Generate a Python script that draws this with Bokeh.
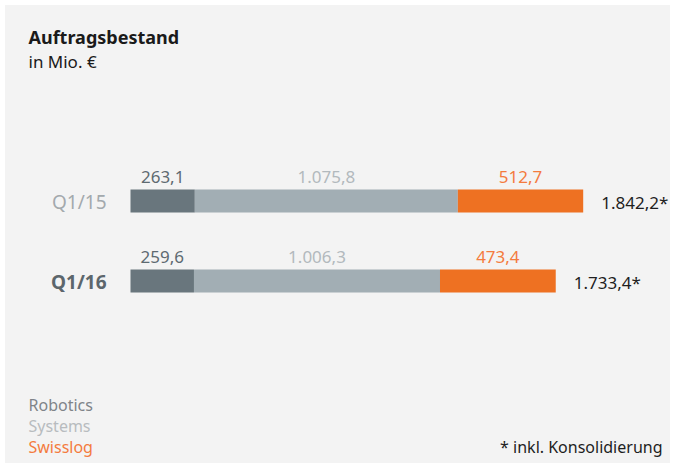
from bokeh.plotting import figure
from bokeh.models import Range1d, ColumnDataSource, Label
from bokeh.embed import file_html
from bokeh.resources import INLINE
from bokeh.core.properties import value

# ---- data ----
categories = ["Q1/15", "Q1/16"]
segments = ["Robotics", "Systems", "Swisslog"]
robotics = [263.1, 259.6]
systems = [1075.8, 1006.3]
swisslog = [512.7, 473.4]
totals = [1842.2, 1733.4]

title = "Auftragsbestand"
subtitle = "in Mio. €"
footnote = "* inkl. Konsolidierung"

# ---- styles ----
FONT = "Noto Sans"
BG = "#f3f3f3"
bar_colors = ["#69767d", "#a2aeb4", "#ee7122"]
label_colors = ["#5e6a71", "#b2b9bd", "#f47b3e"]
legend_colors = ["#7f8489", "#b8bcbf", "#f47b3e"]

W, H = 675, 468
PX_PER_UNIT = 0.24449
X0_PX = 130
ROW_PX = 80.0
ROW2_FROM_BOTTOM = H - 280.5

def de(v):
    s = f"{v:,.1f}"
    return s.replace(",", "X").replace(".", ",").replace("X", ".")

n = len(categories)
ys = [n - 1 - i for i in range(n)]

x_start = -X0_PX / PX_PER_UNIT
x_end = x_start + W / PX_PER_UNIT
y_start = -ROW2_FROM_BOTTOM / ROW_PX
y_end = y_start + H / ROW_PX

p = figure(width=W, height=H, output_backend="svg", toolbar_location=None,
           x_range=Range1d(x_start, x_end), y_range=Range1d(y_start, y_end),
           x_axis_type=None, y_axis_type=None, min_border=0)
p.background_fill_color = BG
p.border_fill_color = BG
p.outline_line_color = "white"
p.outline_line_width = 9
p.grid.visible = False

bar_h = 23 / ROW_PX
series = [robotics, systems, swisslog]
left = [0.0] * n
for k, vals in enumerate(series):
    right = [l + v for l, v in zip(left, vals)]
    mid = [(l + r) / 2 for l, r in zip(left, right)]
    src = ColumnDataSource(dict(y=ys, left=left, right=right, mid=mid,
                                ly=[y + 24.5 / ROW_PX for y in ys],
                                lbl=[de(v) for v in vals]))
    p.hbar(y="y", left="left", right="right", height=bar_h, source=src,
           fill_color=bar_colors[k], line_color=None)
    p.text(x="mid", y="ly", text="lbl", source=src, text_align="center",
           text_baseline="middle", text_color=label_colors[k],
           text_font=value(FONT), text_font_size="17px")
    left = right

# totals
tsrc = ColumnDataSource(dict(x=left, y=[y - 1.5 / ROW_PX for y in ys],
                             t=[de(v) + "*" for v in totals]))
p.text(x="x", y="y", text="t", source=tsrc, x_offset=18, text_align="left",
       text_baseline="middle", text_color="#1e1e1e",
       text_font=value(FONT), text_font_size="17px")

# category labels
for i, c in enumerate(categories):
    bold = (i == n - 1)
    csrc = ColumnDataSource(dict(x=[0], y=[ys[i] - 1 / ROW_PX], t=[c]))
    p.text(x="x", y="y", text="t", source=csrc, x_offset=-24,
           text_align="right", text_baseline="middle",
           text_color="#5c666c" if bold else "#a3a9ad",
           text_font=value(FONT), text_font_size="19px",
           text_font_style="bold" if bold else "normal")

# title / subtitle
p.add_layout(Label(x=28, y=H - 36.75, x_units="screen", y_units="screen",
                   text=title, text_font=FONT, text_font_size="18px",
                   text_font_style="bold", text_color="#1a1a1a",
                   text_baseline="middle"))
p.add_layout(Label(x=28, y=H - 61, x_units="screen", y_units="screen",
                   text=subtitle, text_font=FONT, text_font_size="17px",
                   text_color="#1a1a1a", text_baseline="middle"))

# legend
for k, s in enumerate(segments):
    p.add_layout(Label(x=28, y=H - (404.5 + 20.75 * k), x_units="screen", y_units="screen",
                       text=s, text_font=FONT, text_font_size="16px",
                       text_color=legend_colors[k], text_baseline="middle"))

p.add_layout(Label(x=662, y=H - 446, x_units="screen", y_units="screen",
                   text=footnote, text_font=FONT, text_font_size="16px",
                   text_color="#1e1e1e", text_align="right",
                   text_baseline="middle"))

open("out.html", "w").write(file_html(p, INLINE))
